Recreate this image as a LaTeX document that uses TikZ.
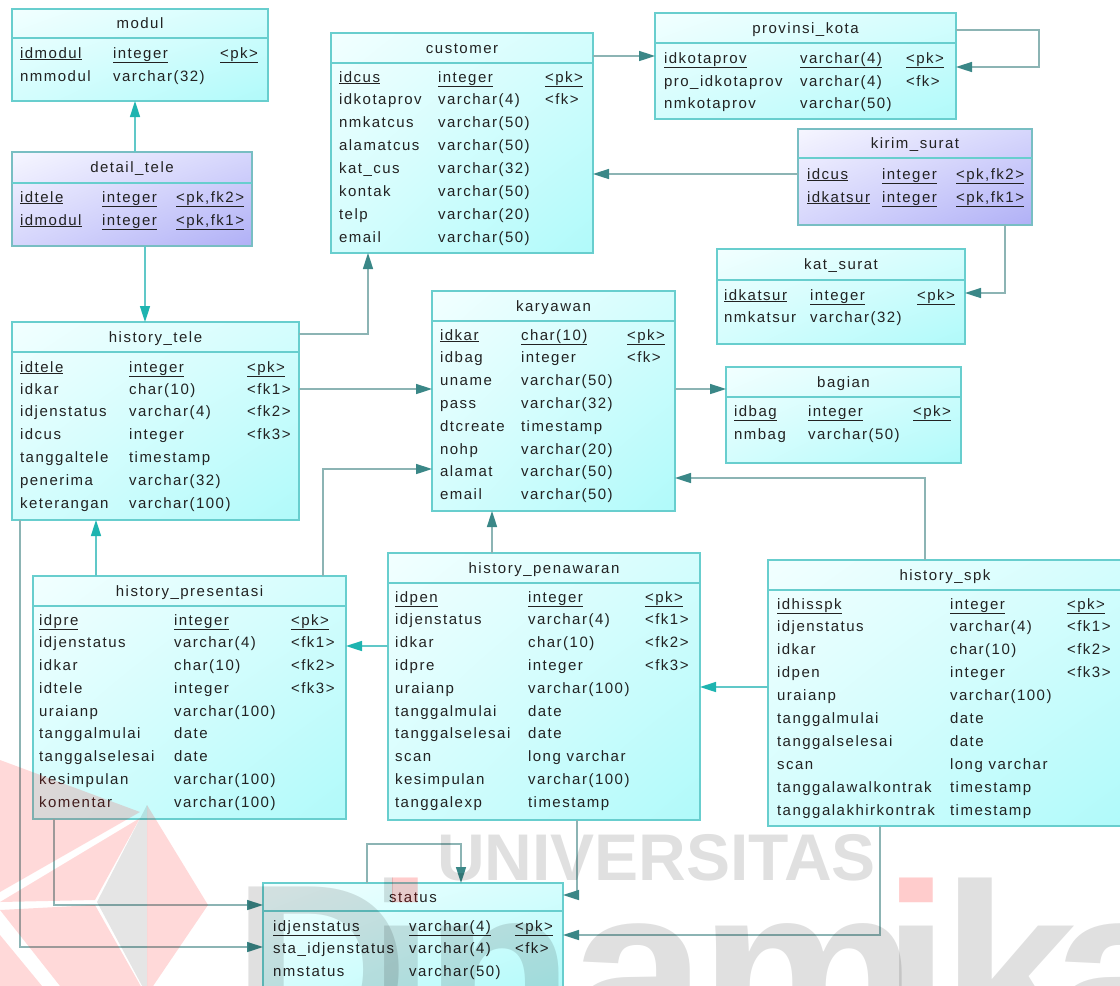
\documentclass[tikz,border=0pt]{standalone}
\usepackage{fontspec}
\setmainfont{Liberation Sans}[LetterSpace=10]
\newfontfamily\wmfont{Liberation Sans}
\usetikzlibrary{arrows.meta,fit,shadings}
\definecolor{cyA}{RGB}{242,255,255}
\definecolor{cyM}{RGB}{212,253,253}
\definecolor{cyB}{RGB}{176,250,250}
\definecolor{lvA}{RGB}{246,246,255}
\definecolor{lvM}{RGB}{214,214,252}
\definecolor{lvB}{RGB}{176,176,246}
\definecolor{bordC}{RGB}{104,206,206}
\definecolor{bordL}{RGB}{120,190,195}
\definecolor{txtC}{RGB}{34,34,34}
\definecolor{lnD}{RGB}{140,180,180}
\definecolor{arD}{RGB}{58,135,135}
\definecolor{lnL}{RGB}{96,200,200}
\definecolor{arL}{RGB}{30,180,176}
\newcommand\ff{\fontsize{15}{18}\selectfont}
\newcommand\cols[3]{\def\cxn{#1}\def\cxt{#2}\def\cxk{#3}}
\newcommand\erow[5]{%
 \node[cell] (#1-n) at (\cxn,#2+5) {#3};
 \node[cell] (#1-t) at (\cxt,#2+5) {#4};
 \node[cell] (#1-k) at (\cxk,#2+5) {#5};}
\newcommand\urow[5]{\erow{#1}{#2}{\underline{#3}}{\underline{#4}}{\underline{#5}}}
\newcommand\ebox[8]{%
 \node[#7, fit={(#2,#3) (#4,#5)}] (#1) {};
 \draw[sepl] (#2,#6) -- (#4,#6);
 \node[ttl] (#1-title) at ({(#2+#4)/2},{(#3+#6)/2+5}) {#8};}
\newcommand\wmword{D\kern-41pt i\kern-12pt n\kern-3pt a\kern-7pt m\kern-35pt i\kern-10pt k\kern-25pt a}
\begin{document}
\begin{tikzpicture}[x=1pt,y=-1pt,
 tbl/.style={draw=bordC, line width=1.2pt, inner sep=0pt, outer sep=0pt, shade, upper left=cyA, upper right=cyM, lower left=cyM, lower right=cyB},
 lav/.style={draw=bordL, line width=1.2pt, inner sep=0pt, outer sep=0pt, shade, upper left=lvA, upper right=lvM, lower left=lvM, lower right=lvB},
 sepl/.style={draw=bordC, line width=1.6pt},
 cell/.style={anchor=base west, inner sep=0pt, outer sep=0pt, font=\ff, text=txtC},
 ttl/.style={anchor=base, inner sep=0pt, outer sep=0pt, font=\ff, text=txtC},
 conn/.style={draw=lnD, line width=1.6pt, -{Triangle[length=16pt,width=10pt,color=arD]}},
 connL/.style={draw=lnL, line width=1.6pt, -{Triangle[length=16pt,width=10pt,color=arL]}},
 wm/.style={anchor=base west, inner sep=0pt, outer sep=0pt},
 bigwm/.style={wm, font={\wmfont\bfseries\fontsize{245}{245}\selectfont}},
 pinkwm/.style={fill=red, opacity=0.15},
 graywm/.style={fill=black, opacity=0.10}
]
\useasboundingbox (0,0) rectangle (1120,986);
\clip (0,0) rectangle (1120,986);

% modul
\ebox{modul}{12}{9}{268}{101}{38}{tbl}{modul}
\cols{20}{113}{220}
\urow{modul-r1}{53}{idmodul}{integer}{<pk>}
\erow{modul-r2}{76}{nmmodul}{varchar(32)}{}

% detail_tele
\ebox{detail_tele}{12}{152}{252}{246}{183}{lav}{detail\_tele}
\cols{20}{102}{176}
\urow{dt-r1}{197}{idtele}{integer}{<pk,fk2>}
\urow{dt-r2}{220}{idmodul}{integer}{<pk,fk1>}

% customer
\ebox{customer}{331}{33}{593}{253}{63}{tbl}{customer}
\cols{339}{438}{545}
\urow{cu-r1}{77}{idcus}{integer}{<pk>}
\erow{cu-r2}{99}{idkotaprov}{varchar(4)}{<fk>}
\erow{cu-r3}{122}{nmkatcus}{varchar(50)}{}
\erow{cu-r4}{145}{alamatcus}{varchar(50)}{}
\erow{cu-r5}{168}{kat\_cus}{varchar(32)}{}
\erow{cu-r6}{191}{kontak}{varchar(50)}{}
\erow{cu-r7}{214}{telp}{varchar(20)}{}
\erow{cu-r8}{237}{email}{varchar(50)}{}

% provinsi_kota
\ebox{provinsi_kota}{655}{13}{956}{119}{43}{tbl}{provinsi\_kota}
\cols{664}{800}{906}
\urow{pk-r1}{58}{idkotaprov}{varchar(4)}{<pk>}
\erow{pk-r2}{81}{pro\_idkotaprov}{varchar(4)}{<fk>}
\erow{pk-r3}{103}{nmkotaprov}{varchar(50)}{}

% kirim_surat
\ebox{kirim_surat}{798}{129}{1032}{225}{158}{lav}{kirim\_surat}
\cols{807}{882}{956}
\urow{ks-r1}{174}{idcus}{integer}{<pk,fk2>}
\urow{ks-r2}{197}{idkatsur}{integer}{<pk,fk1>}

% kat_surat
\ebox{kat_surat}{717}{249}{965}{344}{280}{tbl}{kat\_surat}
\cols{724}{810}{917}
\urow{kt-r1}{295}{idkatsur}{integer}{<pk>}
\erow{kt-r2}{317}{nmkatsur}{varchar(32)}{}

% history_tele
\ebox{history_tele}{12}{322}{299}{520}{352}{tbl}{history\_tele}
\cols{20}{129}{247}
\urow{ht-r1}{367}{idtele}{integer}{<pk>}
\erow{ht-r2}{389}{idkar}{char(10)}{<fk1>}
\erow{ht-r3}{411}{idjenstatus}{varchar(4)}{<fk2>}
\erow{ht-r4}{434}{idcus}{integer}{<fk3>}
\erow{ht-r5}{457}{tanggaltele}{timestamp}{}
\erow{ht-r6}{480}{penerima}{varchar(32)}{}
\erow{ht-r7}{503}{keterangan}{varchar(100)}{}

% karyawan
\ebox{karyawan}{432}{291}{675}{511}{321}{tbl}{karyawan}
\cols{440}{521}{627}
\urow{ky-r1}{335}{idkar}{char(10)}{<pk>}
\erow{ky-r2}{357}{idbag}{integer}{<fk>}
\erow{ky-r3}{380}{uname}{varchar(50)}{}
\erow{ky-r4}{403}{pass}{varchar(32)}{}
\erow{ky-r5}{426}{dtcreate}{timestamp}{}
\erow{ky-r6}{449}{nohp}{varchar(20)}{}
\erow{ky-r7}{471}{alamat}{varchar(50)}{}
\erow{ky-r8}{494}{email}{varchar(50)}{}

% bagian
\ebox{bagian}{726}{367}{961}{463}{397}{tbl}{bagian}
\cols{734}{808}{913}
\urow{bg-r1}{411}{idbag}{integer}{<pk>}
\erow{bg-r2}{434}{nmbag}{varchar(50)}{}

% history_presentasi
\ebox{history_presentasi}{33}{576}{346}{819}{606}{tbl}{history\_presentasi}
\cols{39}{174}{291}
\urow{hp-r1}{620}{idpre}{integer}{<pk>}
\erow{hp-r2}{642}{idjenstatus}{varchar(4)}{<fk1>}
\erow{hp-r3}{665}{idkar}{char(10)}{<fk2>}
\erow{hp-r4}{688}{idtele}{integer}{<fk3>}
\erow{hp-r5}{711}{uraianp}{varchar(100)}{}
\erow{hp-r6}{733}{tanggalmulai}{date}{}
\erow{hp-r7}{756}{tanggalselesai}{date}{}
\erow{hp-r8}{779}{kesimpulan}{varchar(100)}{}
\erow{hp-r9}{802}{komentar}{varchar(100)}{}

% history_penawaran
\ebox{history_penawaran}{388}{553}{700}{820}{583}{tbl}{history\_penawaran}
\cols{395}{528}{645}
\urow{hw-r1}{597}{idpen}{integer}{<pk>}
\erow{hw-r2}{619}{idjenstatus}{varchar(4)}{<fk1>}
\erow{hw-r3}{642}{idkar}{char(10)}{<fk2>}
\erow{hw-r4}{665}{idpre}{integer}{<fk3>}
\erow{hw-r5}{688}{uraianp}{varchar(100)}{}
\erow{hw-r6}{711}{tanggalmulai}{date}{}
\erow{hw-r7}{733}{tanggalselesai}{date}{}
\erow{hw-r8}{756}{scan}{long varchar}{}
\erow{hw-r9}{779}{kesimpulan}{varchar(100)}{}
\erow{hw-r10}{802}{tanggalexp}{timestamp}{}

% history_spk
\ebox{history_spk}{768}{560}{1122}{826}{590}{tbl}{history\_spk}
\cols{777}{950}{1067}
\urow{hs-r1}{604}{idhisspk}{integer}{<pk>}
\erow{hs-r2}{626}{idjenstatus}{varchar(4)}{<fk1>}
\erow{hs-r3}{649}{idkar}{char(10)}{<fk2>}
\erow{hs-r4}{672}{idpen}{integer}{<fk3>}
\erow{hs-r5}{695}{uraianp}{varchar(100)}{}
\erow{hs-r6}{718}{tanggalmulai}{date}{}
\erow{hs-r7}{741}{tanggalselesai}{date}{}
\erow{hs-r8}{764}{scan}{long varchar}{}
\erow{hs-r9}{787}{tanggalawalkontrak}{timestamp}{}
\erow{hs-r10}{810}{tanggalakhirkontrak}{timestamp}{}

% status
\ebox{status}{263}{883}{563}{1000}{911}{tbl}{status}
\cols{273}{409}{515}
\urow{st-r1}{926}{idjenstatus}{varchar(4)}{<pk>}
\erow{st-r2}{948}{sta\_idjenstatus}{varchar(4)}{<fk>}
\erow{st-r3}{971}{nmstatus}{varchar(50)}{}

% connectors
\draw[connL] (detail_tele.north -| 135,0) -- (modul.south -| 135,0);
\draw[connL] (detail_tele.south -| 145,0) -- (history_tele.north -| 145,0);
\draw[conn] (customer.east |- 0,56) -- (provinsi_kota.west |- 0,56);
\draw[conn] (provinsi_kota.east |- 0,30) -| (1039,67) -- (provinsi_kota.east |- 0,67);
\draw[conn] (kirim_surat.west |- 0,174) -- (customer.east |- 0,174);
\draw[conn] (kirim_surat.south -| 1005,0) |- (kat_surat.east |- 0,293);
\draw[conn] (history_tele.east |- 0,334) -| (customer.south -| 368,0);
\draw[conn] (history_tele.east |- 0,389) -- (karyawan.west |- 0,389);
\draw[conn] (karyawan.east |- 0,389) -- (bagian.west |- 0,389);
\draw[conn] (history_presentasi.north -| 323,0) |- (karyawan.west |- 0,469);
\draw[connL] (history_presentasi.north -| 96,0) -- (history_tele.south -| 96,0);
\draw[conn] (history_penawaran.north -| 492,0) -- (karyawan.south -| 492,0);
\draw[conn] (history_spk.north -| 925,0) |- (karyawan.east |- 0,478);
\draw[connL] (history_penawaran.west |- 0,646) -- (history_presentasi.east |- 0,646);
\draw[connL] (history_spk.west |- 0,687) -- (history_penawaran.east |- 0,687);
\draw[conn] (history_presentasi.south -| 54,0) |- (status.west |- 0,905);
\draw[conn] (history_tele.south -| 20,0) |- (status.west |- 0,947);
\draw[conn] (history_penawaran.south -| 577,0) |- (status.east |- 0,895);
\draw[conn] (history_spk.south -| 880,0) |- (status.east |- 0,935);
\draw[conn] (status.north -| 367,0) -- (367,844) -| (status.north -| 461,0);

% watermark emblem
\path[pinkwm] (147,805) -- (208,905) -- (147,995) -- cycle;
\path[graywm] (147,805) -- (97,902) -- (147,995) -- cycle;
\path[pinkwm] (0,760) -- (140,812) -- (0,892) -- cycle;
\path[pinkwm] (0,902) -- (140,818) -- (95,900) -- cycle;
\path[pinkwm] (0,910) -- (95,905) -- (143,990) -- (60,986) -- cycle;
\path[pinkwm] (0,935) -- (42,986) -- (0,986) -- cycle;
\node[wm, font={\wmfont\bfseries\fontsize{66}{66}\selectfont}, text=black, opacity=0.12] (wmU) at (437,880) {UNIVERSITAS};
\begin{scope}
\clip (0,0) rectangle (392,986) (425,0) rectangle (895,986) (940,0) rectangle (1120,986) (392,918) rectangle (425,986) (895,918) rectangle (940,986);
\node[bigwm, text=black, opacity=0.12] (wmD) at (232,1055) {\wmword};
\end{scope}
\begin{scope}
\clip (392,850) rectangle (425,918) (895,850) rectangle (940,918);
\node[bigwm, text=red, opacity=0.2] (wmD2) at (232,1055) {\wmword};
\end{scope}
\end{tikzpicture}
\end{document}
